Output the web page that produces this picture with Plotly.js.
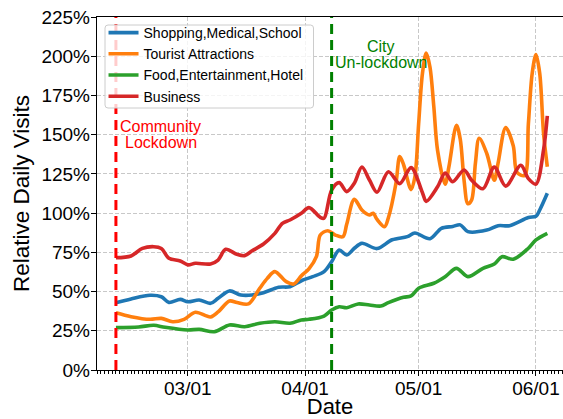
<!DOCTYPE html>
<html>
<head>
<meta charset="utf-8">
<script src="https://cdn.plot.ly/plotly-3.0.1.min.js"></script>
<style>
  html, body { margin: 0; padding: 0; background: #ffffff; }
  #chart { width: 563px; height: 419px; }
</style>
</head>
<body>
<div id="chart"></div>
<script>
// Relative daily visits by venue category, Feb–Jun 2020

const shopDates = ['2020-02-11','2020-02-15','2020-02-20','2020-02-23','2020-02-25','2020-02-28','2020-03-01','2020-03-04','2020-03-07','2020-03-09','2020-03-12','2020-03-15','2020-03-18','2020-03-21','2020-03-25','2020-03-28','2020-03-31','2020-04-03','2020-04-06','2020-04-08','2020-04-10','2020-04-12','2020-04-14','2020-04-16','2020-04-20','2020-04-24','2020-04-28','2020-04-30','2020-05-04','2020-05-07','2020-05-10','2020-05-12','2020-05-14','2020-05-19','2020-05-22','2020-05-25','2020-05-30','2020-06-01','2020-06-02','2020-06-04'];
const shopValues = [42.9,45.3,47.6,46.7,43.1,45,43.5,44.6,42.5,45.7,50.4,47.8,47.8,49.3,52.7,53.1,56.9,59.5,62.7,69,76.5,73.3,77.6,80.8,77.4,83,85,87.3,83.7,90.3,91.5,92.5,88.2,89.2,92,92,97.2,98,102,112.6];

const touristDates = ['2020-02-11','2020-02-15','2020-02-20','2020-02-23','2020-02-26','2020-02-29','2020-03-03','2020-03-07','2020-03-09','2020-03-12','2020-03-14','2020-03-17','2020-03-20','2020-03-22','2020-03-24','2020-03-27','2020-03-29','2020-03-31','2020-04-02','2020-04-04','2020-04-05','2020-04-07','2020-04-09','2020-04-11','2020-04-12','2020-04-14','2020-04-16','2020-04-18','2020-04-19','2020-04-20','2020-04-22','2020-04-23','2020-04-25','2020-04-26','2020-04-27','2020-04-29','2020-04-30','2020-05-01','2020-05-02','2020-05-03','2020-05-04','2020-05-05','2020-05-06','2020-05-08','2020-05-09','2020-05-11','2020-05-12','2020-05-13','2020-05-14','2020-05-15','2020-05-16','2020-05-17','2020-05-19','2020-05-21','2020-05-22','2020-05-24','2020-05-26','2020-05-27','2020-05-29','2020-05-30','2020-05-31','2020-06-01','2020-06-02','2020-06-03','2020-06-04'];
const touristValues = [36.5,34,32.3,32.9,30.8,32.3,36.8,33.8,37,44,43,42.1,52.1,58.4,62.7,56.3,54.8,60,64.5,72.5,86,88.8,86,85,93,108.8,102,98.8,99.9,96,91.3,97,119,136,131,115,123,157,189,202,193,168,140,118.5,129.6,156,147,121,106,108.4,131.8,147.7,138,121,132,154.5,143,126,124,157,189,201,189,151,129.6];

const foodDates = ['2020-02-11','2020-02-17','2020-02-21','2020-02-24','2020-03-01','2020-03-04','2020-03-08','2020-03-12','2020-03-16','2020-03-20','2020-03-24','2020-03-28','2020-03-31','2020-04-02','2020-04-06','2020-04-08','2020-04-10','2020-04-12','2020-04-15','2020-04-18','2020-04-21','2020-04-23','2020-04-27','2020-04-29','2020-05-01','2020-05-05','2020-05-08','2020-05-11','2020-05-14','2020-05-18','2020-05-21','2020-05-23','2020-05-26','2020-05-30','2020-06-01','2020-06-04'];
const foodValues = [27,27.4,28.5,27.2,25.5,25.9,24.4,28.7,27.6,29.8,30.8,29.8,31.9,32.3,34.4,38.2,40.3,39.7,42.1,41.4,40.8,42.9,46.3,47.2,52.1,55.3,59.5,64.8,59.5,64.8,67.6,72.2,70.6,77.6,82.9,87.1];

const businessDates = ['2020-02-11','2020-02-15','2020-02-18','2020-02-21','2020-02-23','2020-02-25','2020-02-28','2020-03-01','2020-03-03','2020-03-07','2020-03-09','2020-03-11','2020-03-14','2020-03-16','2020-03-18','2020-03-21','2020-03-24','2020-03-26','2020-03-28','2020-03-31','2020-04-02','2020-04-05','2020-04-06','2020-04-08','2020-04-10','2020-04-12','2020-04-14','2020-04-16','2020-04-18','2020-04-20','2020-04-23','2020-04-26','2020-04-29','2020-05-02','2020-05-03','2020-05-06','2020-05-08','2020-05-10','2020-05-13','2020-05-15','2020-05-18','2020-05-21','2020-05-24','2020-05-28','2020-05-30','2020-06-01','2020-06-03','2020-06-04'];
const businessValues = [71.6,72.7,77.5,78.6,77.5,71.2,69.5,67,68,67.6,70.1,76.9,73.7,72.9,76,80.3,87.1,93.5,95.6,99.9,103.5,97.3,96.7,114.7,119.4,113.7,119,129.4,121.1,113.3,126.4,118.8,129,113,107.5,116.8,125.6,120,127.5,121,115.5,129.3,117.2,130.5,122,118.5,140.2,162];

const seriesNames = ['Shopping,Medical,School', 'Tourist Attractions', 'Food,Entertainment,Hotel', 'Business'];
const seriesColors = ['#1f77b4', '#ff7f0e', '#2ca02c', '#d62728'];

const monthTicks = ['2020-03-01', '2020-04-01', '2020-05-01', '2020-06-01'];
const monthTickText = ['03/01', '04/01', '05/01', '06/01'];
const percentTicks = [0, 25, 50, 75, 100, 125, 150, 175, 200, 225];

const lockdownDate = '2020-02-11';
const unlockDate = '2020-04-08';

const FONT = 'Arial, "Liberation Sans", Helvetica, sans-serif';

const seriesX = [shopDates, touristDates, foodDates, businessDates];
const seriesY = [shopValues, touristValues, foodValues, businessValues];

const traces = seriesNames.map((name, i) => ({
  type: 'scatter',
  mode: 'lines',
  name: name,
  x: seriesX[i],
  y: seriesY[i],
  line: { color: seriesColors[i], width: 3.6, shape: 'spline', smoothing: 0.9 },
  hoverinfo: 'x+y+name'
}));

// Rounded legend frame in paper coordinates (semi-transparent white, light grey edge)
function roundedBox(x0, y0, x1, y1, rx, ry) {
  return `M${x0 + rx},${y0} L${x1 - rx},${y0} Q${x1},${y0} ${x1},${y0 + ry} ` +
         `L${x1},${y1 - ry} Q${x1},${y1} ${x1 - rx},${y1} ` +
         `L${x0 + rx},${y1} Q${x0},${y1} ${x0},${y1 - ry} ` +
         `L${x0},${y0 + ry} Q${x0},${y0} ${x0 + rx},${y0} Z`;
}

const annoFont = (color) => ({ family: FONT, size: 16, color: color });

const layout = {
  width: 563,
  height: 419,
  margin: { l: 97, r: 0, t: 17, b: 49, pad: 0 },
  paper_bgcolor: '#ffffff',
  plot_bgcolor: '#ffffff',
  font: { family: FONT, color: '#000000', size: 19 },
  showlegend: true,
  legend: {
    x: 0.014, y: 1.0, xanchor: 'left', yanchor: 'top',
    bgcolor: 'rgba(0,0,0,0)',
    borderwidth: 0,
    font: { family: FONT, size: 14, color: '#000000' },
    itemwidth: 30,
    tracegroupgap: 0
  },
  xaxis: {
    type: 'date',
    range: ['2020-02-06', '2020-06-08 03:30'],
    tickmode: 'array',
    tickvals: monthTicks,
    ticktext: monthTickText,
    ticks: 'outside', ticklen: 5, tickwidth: 1, tickcolor: '#000000',
    ticklabelstandoff: -4,
    tickfont: { family: FONT, size: 19, color: '#000000' },
    showline: true, linecolor: '#000000', linewidth: 1.2, mirror: true,
    showgrid: true, gridcolor: '#c8c8c8', gridwidth: 1, griddash: '4px,2px',
    zeroline: false,
    minor: { dtick: 86400000, ticks: 'outside', ticklen: 2.5, tickwidth: 1, tickcolor: '#000000', showgrid: false },
    title: { text: 'Date', font: { family: FONT, size: 22, color: '#000000' }, standoff: 8 }
  },
  yaxis: {
    range: [0, 225],
    tickmode: 'array',
    tickvals: percentTicks,
    ticktext: percentTicks.map(v => v + '%'),
    ticks: 'outside', ticklen: 5, tickwidth: 1, tickcolor: '#000000',
    ticklabelstandoff: -3,
    tickfont: { family: FONT, size: 19, color: '#000000' },
    showline: true, linecolor: '#000000', linewidth: 1.2,
    showgrid: true, gridcolor: '#c8c8c8', gridwidth: 1, griddash: '4px,2px',
    zeroline: false,
    title: { text: 'Relative Daily Visits', font: { family: FONT, size: 22.5, color: '#000000' }, standoff: 5 }
  },
  shapes: [
    { type: 'line', layer: 'above', xref: 'x', yref: 'paper', x0: lockdownDate, x1: lockdownDate, y0: 0, y1: 1,
      line: { color: '#ff0000', width: 3, dash: '10px,6px' } },
    { type: 'line', layer: 'above', xref: 'x', yref: 'paper', x0: unlockDate, x1: unlockDate, y0: 0, y1: 1,
      line: { color: '#008000', width: 3, dash: '10px,6px' } },
    { type: 'path', layer: 'above', xref: 'paper', yref: 'paper',
      path: roundedBox(0.0172, 0.7422, 0.4646, 0.9773, 0.0065, 0.0085),
      fillcolor: 'rgba(255,255,255,0.8)', line: { color: '#cccccc', width: 1 } }
  ],
  annotations: [
    { xref: 'x', yref: 'y', x: lockdownDate, y: 155.5, xanchor: 'center', yanchor: 'middle', xshift: 45,
      text: 'Community', showarrow: false, font: annoFont('#ff0000') },
    { xref: 'x', yref: 'y', x: lockdownDate, y: 145.1, xanchor: 'center', yanchor: 'middle', xshift: 45,
      text: 'Lockdown', showarrow: false, font: annoFont('#ff0000') },
    { xref: 'x', yref: 'y', x: unlockDate, y: 206.3, xanchor: 'center', yanchor: 'middle', xshift: 49,
      text: 'City', showarrow: false, font: annoFont('#008000') },
    { xref: 'x', yref: 'y', x: unlockDate, y: 195.9, xanchor: 'center', yanchor: 'middle', xshift: 49,
      text: 'Un-lockdown', showarrow: false, font: annoFont('#008000') }
  ]
};

Plotly.newPlot('chart', traces, layout, { displayModeBar: false, staticPlot: true });
</script>
</body>
</html>
